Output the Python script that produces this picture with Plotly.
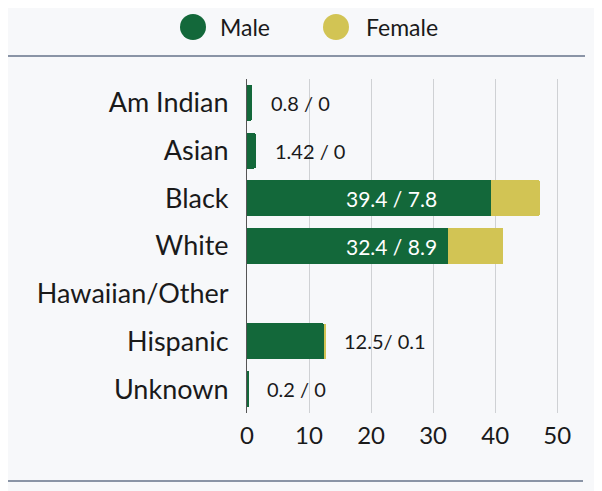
import plotly.graph_objects as go

categories = ["Am Indian", "Asian", "Black", "White", "Hawaiian/Other", "Hispanic", "Unknown"]
male = [0.8, 1.42, 39.4, 32.4, 0, 12.5, 0.2]
female = [0, 0, 7.8, 8.9, 0, 0.1, 0]
labels = ["0.8 / 0", "1.42 / 0", "39.4 / 7.8", "32.4 / 8.9", "", "12.5/ 0.1", "0.2 / 0"]
inside = [False, False, True, True, False, False, False]
x_ticks = [0, 10, 20, 30, 40, 50]

GREEN = "#13683a"
YELLOW = "#d2c454"
BG = "#f7f8fa"
TEXT = "#1a1a1a"
FONT = "Lato"

fig = go.Figure()
fig.add_trace(go.Bar(y=categories, x=male, orientation="h", name="Male",
                     marker=dict(color=GREEN, line=dict(width=0)), showlegend=False,
                     hoverinfo="skip"))
fig.add_trace(go.Bar(y=categories, x=female, orientation="h", name="Female",
                     marker=dict(color=YELLOW, line=dict(width=0)), showlegend=False,
                     hoverinfo="skip"))

annotations = []
for cat, m, f, lab, ins in zip(categories, male, female, labels, inside):
    if not lab:
        continue
    if ins:
        annotations.append(dict(x=15.6, y=cat, xref="x", yref="y", text=lab, showarrow=False,
                                xanchor="left", yanchor="middle",
                                font=dict(family=FONT, size=21, color="white")))
    else:
        annotations.append(dict(x=m + f, y=cat, xref="x", yref="y", text=lab, showarrow=False,
                                xanchor="left", yanchor="middle", xshift=17,
                                font=dict(family=FONT, size=20, color=TEXT)))

OFF = 8  # page body margin
W, H = 602, 491
ML, MR, MT, MB = 247 - OFF, 20 + OFF, 79 - OFF, 78 + OFF
pw = W - ML - MR
ph = H - MT - MB

def px_to_paper_x(px):
    return (px - OFF - ML) / pw

def px_to_paper_y(py):
    return (H - MB - (py - OFF)) / ph

shapes = []
legend_items = [("Male", GREEN, 193, 218), ("Female", YELLOW, 336, 364)]
for name, col, cx, tx in legend_items:
    shapes.append(dict(type="circle", xref="paper", yref="paper",
                       x0=px_to_paper_x(cx - 13), x1=px_to_paper_x(cx + 13),
                       y0=px_to_paper_y(27 + 13), y1=px_to_paper_y(27 - 13),
                       fillcolor=col, line=dict(width=0)))
    annotations.append(dict(x=px_to_paper_x(tx), y=px_to_paper_y(27), xref="paper", yref="paper",
                            text=name, showarrow=False, xanchor="left", yanchor="middle",
                            font=dict(family=FONT, size=23, color=TEXT)))

# horizontal rules
shapes.append(dict(type="line", xref="paper", yref="paper",
                   x0=px_to_paper_x(OFF), x1=px_to_paper_x(585),
                   y0=px_to_paper_y(56), y1=px_to_paper_y(56),
                   line=dict(color="#8a94a6", width=2)))
shapes.append(dict(type="line", xref="paper", yref="paper",
                   x0=px_to_paper_x(OFF), x1=px_to_paper_x(583),
                   y0=px_to_paper_y(481), y1=px_to_paper_y(481),
                   line=dict(color="#8a94a6", width=2)))

fig.update_layout(
    width=W, height=H,
    barmode="stack", bargap=0.245,
    barcornerradius=2,
    paper_bgcolor=BG, plot_bgcolor=BG,
    margin=dict(l=ML, r=MR, t=MT, b=MB, autoexpand=False),
    font=dict(family=FONT, color=TEXT),
    showlegend=False,
    shapes=shapes,
    annotations=annotations,
    xaxis=dict(range=[0, 54], tickvals=x_ticks, ticktext=[str(t) for t in x_ticks],
               showgrid=True, gridcolor="#cfd1d4", gridwidth=1,
               zeroline=False, showline=False, ticks="",
               tickfont=dict(family=FONT, size=24, color=TEXT),
               ticklabelstandoff=6, fixedrange=True),
    yaxis=dict(categoryorder="array", categoryarray=categories, autorange="reversed",
               showgrid=False, zeroline=False, showline=True, linecolor="#555555", linewidth=1,
               ticks="", tickfont=dict(family=FONT, size=27, color=TEXT),
               ticklabelstandoff=12, fixedrange=True),
)

fig.write_html("out.html", config={"displayModeBar": False})
